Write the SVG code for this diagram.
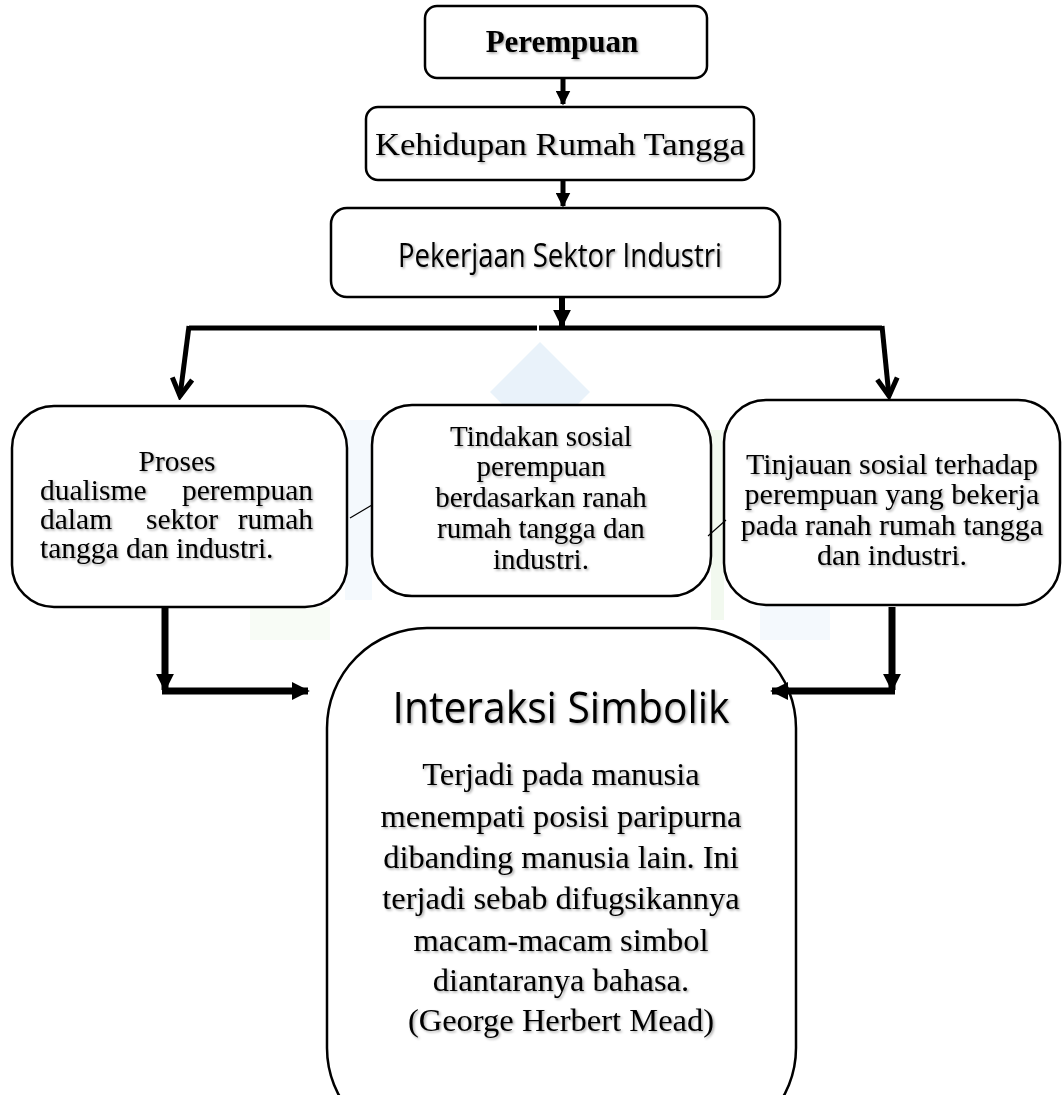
<svg xmlns="http://www.w3.org/2000/svg" width="1062" height="1095" viewBox="0 0 1062 1095">
<defs>
<style>
.box{fill:#fff;stroke:#000;stroke-width:2.5}
.t{font-family:"Liberation Serif","Times New Roman",serif;fill:#000;filter:url(#sh)}
.s{font-family:"Open Sans","Noto Sans","Liberation Sans",sans-serif;fill:#000;filter:url(#sh)}
.c{text-anchor:middle}
.ln{stroke:#000;fill:none;stroke-linecap:butt}
</style>
<filter id="sh" x="-5%" y="-20%" width="110%" height="150%">
<feDropShadow dx="1.5" dy="1.5" stdDeviation="1" flood-color="#000" flood-opacity="0.35"/>
</filter>
<marker id="ah" viewBox="0 0 10 10" refX="9" refY="5" markerWidth="3" markerHeight="3" orient="auto" markerUnits="strokeWidth">
<path d="M0,0 L10,5 L0,10 z" fill="#000"/>
</marker>
<marker id="ah2" viewBox="0 0 10 10" refX="9" refY="5" markerWidth="2.6" markerHeight="2.6" orient="auto" markerUnits="strokeWidth">
<path d="M0,0 L10,5 L0,10 z" fill="#000"/>
</marker>
<marker id="chev" viewBox="0 0 20 20" refX="17" refY="10" markerWidth="5" markerHeight="5" orient="auto" markerUnits="strokeWidth">
<path d="M3,2 L17,10 L3,18" fill="none" stroke="#000" stroke-width="4" stroke-linejoin="miter"/>
</marker>
</defs>
<rect width="1062" height="1095" fill="#fff"/>

<g id="watermark" opacity="0.45">
<polygon points="540,342 590,392 540,442 490,392" fill="#cfe3f3"/>
<polygon points="345,420 372,420 372,600 345,600" fill="#d6e8f5" opacity="0.6"/>
<polygon points="711,430 724,430 724,620 711,620" fill="#e3f1dc"/>
<polygon points="250,607 330,607 330,640 250,640" fill="#e3f1dc" opacity="0.6"/>
<polygon points="760,605 830,605 830,640 760,640" fill="#d6e8f5" opacity="0.6"/>
</g>

<g id="node-perempuan">
<rect class="box" x="425" y="6" width="282" height="72" rx="12"/>
<text class="t c" x="562" y="52" font-size="31" font-weight="bold">Perempuan</text>
</g>

<g id="node-kehidupan">
<rect class="box" x="366" y="107" width="388" height="73" rx="12"/>
<text class="t c" x="560" y="155" font-size="31" textLength="370" lengthAdjust="spacingAndGlyphs">Kehidupan Rumah Tangga</text>
</g>

<g id="node-pekerjaan">
<rect class="box" x="331" y="208" width="449" height="89" rx="16"/>
<text class="s c" x="560" y="267" font-size="32" textLength="324" lengthAdjust="spacingAndGlyphs">Pekerjaan Sektor Industri</text>
</g>

<g id="node-proses">
<rect class="box" x="12" y="406" width="335" height="201" rx="42"/>
<g class="t" font-size="29.5">
<text x="177" y="471" text-anchor="middle">Proses</text>
<text x="40" y="500">dualisme</text>
<text x="313" y="500" text-anchor="end">perempuan</text>
<text x="40" y="529">dalam</text>
<text x="182" y="529" text-anchor="middle">sektor</text>
<text x="313" y="529" text-anchor="end">rumah</text>
<text x="40" y="558">tangga dan industri.</text>
</g>
</g>

<g id="node-tindakan">
<rect class="box" x="372" y="405" width="339" height="191" rx="40"/>
<g class="t c" font-size="29">
<text x="541" y="446">Tindakan sosial</text>
<text x="541" y="476">perempuan</text>
<text x="541" y="507">berdasarkan ranah</text>
<text x="541" y="538">rumah tangga dan</text>
<text x="541" y="569">industri.</text>
</g>
</g>

<g id="node-tinjauan">
<rect class="box" x="724" y="400" width="336" height="205" rx="42"/>
<g class="t c" font-size="30">
<text x="892" y="474">Tinjauan sosial terhadap</text>
<text x="892" y="504">perempuan yang bekerja</text>
<text x="892" y="535">pada ranah rumah tangga</text>
<text x="892" y="565">dan industri.</text>
</g>
</g>

<g id="node-interaksi">
<rect class="box" x="327" y="628" width="469" height="520" rx="100"/>
<text class="s c" x="561" y="723" font-size="44" textLength="337" lengthAdjust="spacingAndGlyphs">Interaksi Simbolik</text>
<g class="t c" font-size="32.5">
<text x="561" y="785">Terjadi pada manusia</text>
<text x="561" y="827">menempati posisi paripurna</text>
<text x="561" y="868">dibanding manusia lain. Ini</text>
<text x="561" y="909">terjadi sebab difugsikannya</text>
<text x="561" y="951">macam-macam simbol</text>
<text x="561" y="991">diantaranya bahasa.</text>
<text x="561" y="1031">(George Herbert Mead)</text>
</g>
</g>

<g id="connectors">
<line class="ln" x1="563" y1="78" x2="563" y2="104" stroke-width="5" marker-end="url(#ah)"/>
<line class="ln" x1="563" y1="180" x2="563" y2="206" stroke-width="5" marker-end="url(#ah)"/>
<line class="ln" x1="562" y1="298" x2="562" y2="326" stroke-width="6" marker-end="url(#ah)"/>
<polyline class="ln" points="537,328 189,328" stroke-width="5"/>
<polyline class="ln" points="539,328 882,328" stroke-width="5"/>
<line class="ln" x1="189" y1="326" x2="180" y2="396" stroke-width="5" marker-end="url(#chev)"/>
<line class="ln" x1="882" y1="326" x2="889" y2="396" stroke-width="5" marker-end="url(#chev)"/>
<line class="ln" x1="350" y1="518" x2="372" y2="505" stroke-width="1.2"/>
<line class="ln" x1="708" y1="536" x2="726" y2="520" stroke-width="1.2"/>
<line class="ln" x1="165" y1="608" x2="165" y2="690" stroke-width="7" marker-end="url(#ah2)"/>
<line class="ln" x1="162" y1="691" x2="308" y2="691" stroke-width="7" marker-end="url(#ah2)"/>
<line class="ln" x1="892" y1="607" x2="892" y2="690" stroke-width="7" marker-end="url(#ah2)"/>
<line class="ln" x1="895" y1="691" x2="772" y2="691" stroke-width="7" marker-end="url(#ah2)"/>
</g>
</svg>
